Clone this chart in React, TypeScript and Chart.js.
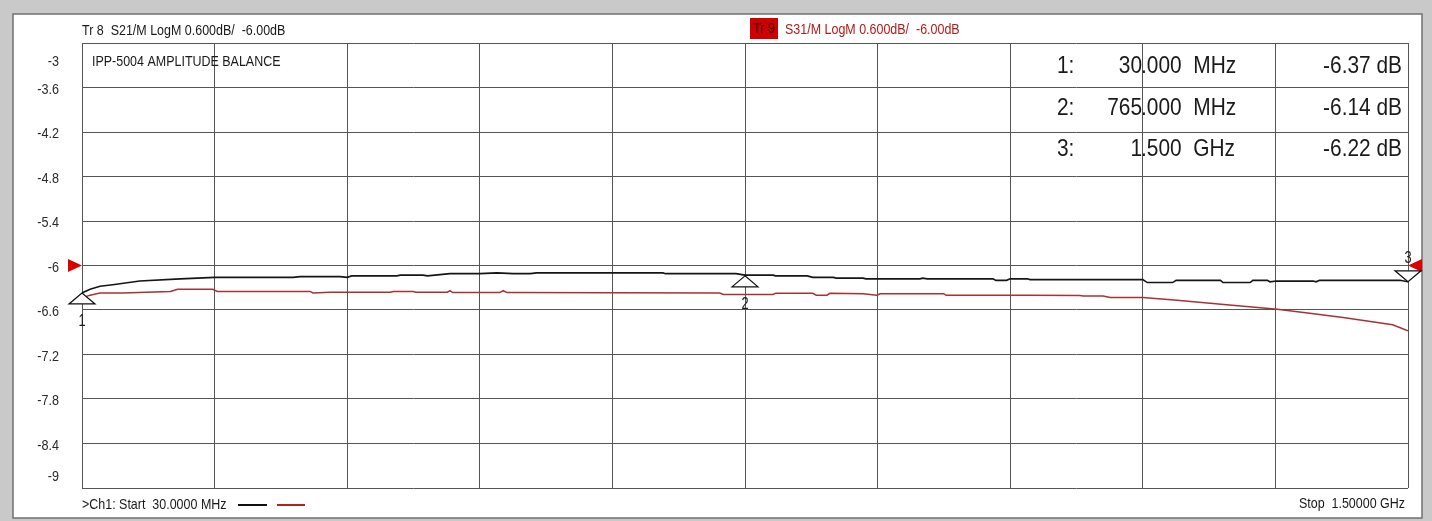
import React, { useEffect, useRef } from "react";
import { Chart, registerables } from "chart.js";

Chart.register(...registerables);

// ---- data (MHz, dB) ----
const s21Freq = [30, 39, 50, 64, 94, 139, 177, 264, 272, 316, 324, 329, 379, 383, 408, 413, 438, 471, 490, 508, 527, 534, 674, 677, 755, 765, 772, 796, 799, 834, 840, 863, 866, 896, 899, 959, 962, 967, 1040, 1043, 1055, 1059, 1078, 1081, 1206, 1211, 1239, 1243, 1292, 1295, 1325, 1328, 1344, 1347, 1354, 1395, 1398, 1402, 1491, 1500];
const s21Val = [-6.37, -6.32, -6.28, -6.26, -6.21, -6.18, -6.16, -6.16, -6.15, -6.15, -6.16, -6.14, -6.14, -6.13, -6.13, -6.14, -6.11, -6.11, -6.1, -6.11, -6.11, -6.1, -6.1, -6.11, -6.11, -6.13, -6.13, -6.13, -6.14, -6.14, -6.16, -6.16, -6.17, -6.17, -6.18, -6.18, -6.17, -6.18, -6.18, -6.2, -6.2, -6.18, -6.18, -6.19, -6.19, -6.23, -6.23, -6.2, -6.2, -6.23, -6.23, -6.2, -6.2, -6.22, -6.21, -6.21, -6.22, -6.2, -6.2, -6.22];

const s31Freq = [30, 39, 50, 75, 128, 136, 175, 180, 283, 286, 305, 372, 375, 397, 400, 435, 438, 441, 493, 497, 501, 737, 741, 796, 799, 840, 844, 856, 859, 896, 911, 915, 985, 988, 1078, 1136, 1140, 1162, 1170, 1206, 1244, 1299, 1355, 1391, 1428, 1466, 1483, 1500];
const s31Val = [-6.44, -6.4, -6.37, -6.37, -6.35, -6.32, -6.32, -6.35, -6.35, -6.37, -6.36, -6.36, -6.35, -6.35, -6.36, -6.36, -6.34, -6.365, -6.365, -6.34, -6.365, -6.37, -6.39, -6.39, -6.375, -6.375, -6.4, -6.4, -6.375, -6.38, -6.4, -6.38, -6.38, -6.4, -6.4, -6.405, -6.41, -6.41, -6.43, -6.43, -6.47, -6.53, -6.59, -6.645, -6.7, -6.77, -6.8, -6.88];

const markerFreq = [30, 765, 1500];
const markerVal = [-6.37, -6.14, -6.22];

const yTicks = [-3, -3.6, -4.2, -4.8, -5.4, -6, -6.6, -7.2, -7.8, -8.4, -9];
const xTicks = [30, 177, 324, 471, 618, 765, 912, 1059, 1206, 1353, 1500];
const refLevel = -6;

const tr8Header = "Tr 8  S21/M LogM 0.600dB/  -6.00dB";
const tr9Tag = "Tr 9";
const tr9Header = "S31/M LogM 0.600dB/  -6.00dB";
const titleText = "IPP-5004 AMPLITUDE BALANCE";
const startText = ">Ch1: Start  30.0000 MHz";
const stopText = "Stop  1.50000 GHz";

const FONT = '"Liberation Sans", Arial, sans-serif';

function txt(ctx: CanvasRenderingContext2D, s: string, x: number, y: number, size: number, color: string, align: CanvasTextAlign, sq = 0.87) {
  ctx.save();
  ctx.font = `${size}px ${FONT}`;
  ctx.fillStyle = color;
  ctx.textBaseline = "middle";
  ctx.textAlign = align;
  ctx.translate(x, y);
  ctx.scale(sq, 1);
  ctx.fillText(s, 0, 0);
  ctx.restore();
}

function fmtFreq(f: number): [string, string, string] {
  const s = f >= 1000 ? (f / 1000).toFixed(3) : f.toFixed(3);
  const [a, b] = s.split(".");
  return [a, "." + b, f >= 1000 ? "GHz" : "MHz"];
}

const framePlugin = {
  id: "frame",
  beforeDraw(chart: any) {
    const ctx = chart.ctx as CanvasRenderingContext2D;
    const w = chart.width;
    const h = chart.height;
    ctx.save();
    ctx.fillStyle = "#c9c9c9";
    ctx.fillRect(0, 0, w, h);
    ctx.fillStyle = "#ffffff";
    ctx.fillRect(13, 14, 1409, 504);
    ctx.strokeStyle = "#707070";
    ctx.lineWidth = 1.5;
    ctx.strokeRect(13, 14, 1409, 504);
    ctx.restore();
  },
};

const decoPlugin = {
  id: "deco",
  afterDraw(chart: any) {
    const ctx = chart.ctx as CanvasRenderingContext2D;
    const xs = chart.scales.x;
    const ys = chart.scales.y;
    const area = chart.chartArea;
    const ink = "#1a1a1a";

    // y tick labels
    yTicks.forEach((v, i) => {
      let y = ys.getPixelForValue(v) + 2;
      if (i === 0) y = ys.getPixelForValue(v) + 19;
      if (i === yTicks.length - 1) y = ys.getPixelForValue(v) - 11;
      txt(ctx, String(v), 59, y, 14.5, "#2a2a2a", "right");
    });

    // headers
    txt(ctx, tr8Header, area.left, 31, 14.5, ink, "left", 0.86);
    ctx.save();
    ctx.fillStyle = "#d00000";
    ctx.fillRect(750, 18, 28, 21);
    ctx.restore();
    txt(ctx, tr9Tag, 764, 29, 14.5, "#3a0000", "center");
    txt(ctx, tr9Header, 785, 30, 14.5, "#b31b1b", "left", 0.86);
    txt(ctx, titleText, 92, 62, 14.5, ink, "left", 0.86);

    // marker table
    const rowY = [66, 108, 149];
    markerFreq.forEach((f, i) => {
      const [ip, dp, unit] = fmtFreq(f);
      const y = rowY[i];
      txt(ctx, `${i + 1}:`, 1057, y, 24, ink, "left", 0.87);
      txt(ctx, ip, 1142, y, 24, ink, "right", 0.87);
      txt(ctx, `${dp}  ${unit}`, 1141, y, 24, ink, "left", 0.87);
      txt(ctx, `${markerVal[i].toFixed(2)} dB`, 1402, y, 24, ink, "right", 0.87);
    });

    // reference arrows
    const yr = ys.getPixelForValue(refLevel);
    ctx.save();
    ctx.fillStyle = "#dd0000";
    ctx.beginPath();
    ctx.moveTo(area.left, yr);
    ctx.lineTo(area.left - 14, yr - 6.5);
    ctx.lineTo(area.left - 14, yr + 6.5);
    ctx.closePath();
    ctx.fill();
    ctx.beginPath();
    ctx.moveTo(area.right, yr);
    ctx.lineTo(area.right + 14, yr - 6.5);
    ctx.lineTo(area.right + 14, yr + 6.5);
    ctx.closePath();
    ctx.fill();
    ctx.restore();

    // markers
    markerFreq.forEach((f, i) => {
      const px = xs.getPixelForValue(f);
      const py = ys.getPixelForValue(markerVal[i]);
      const down = i === markerFreq.length - 1;
      const hw = 13;
      const hh = 11;
      ctx.save();
      ctx.beginPath();
      ctx.moveTo(px, py);
      if (down) {
        ctx.lineTo(px - hw, py - hh);
        ctx.lineTo(px + hw, py - hh);
      } else {
        ctx.lineTo(px - hw, py + hh);
        ctx.lineTo(px + hw, py + hh);
      }
      ctx.closePath();
      ctx.fillStyle = "#ffffff";
      ctx.fill();
      ctx.strokeStyle = "#111111";
      ctx.lineWidth = 1.2;
      ctx.stroke();
      ctx.restore();
      const ly = down ? py - hh - 12 : py + hh + 18;
      txt(ctx, String(i + 1), px, ly, 16, ink, "center", 0.8);
    });

    // bottom texts + legend lines
    txt(ctx, startText, area.left, 505, 14.5, ink, "left", 0.86);
    ctx.save();
    ctx.lineWidth = 2;
    ctx.strokeStyle = "#111111";
    ctx.beginPath();
    ctx.moveTo(238, 505);
    ctx.lineTo(267, 505);
    ctx.stroke();
    ctx.strokeStyle = "#b22222";
    ctx.beginPath();
    ctx.moveTo(277, 505);
    ctx.lineTo(305, 505);
    ctx.stroke();
    ctx.restore();
    txt(ctx, stopText, 1405, 504, 14.5, ink, "right", 0.86);
  },
};

export default function App() {
  const ref = useRef<HTMLCanvasElement | null>(null);
  useEffect(() => {
    document.body.style.margin = "0";
    document.body.style.overflow = "hidden";
    if (!ref.current) return;
    const chart = new Chart(ref.current, {
      type: "line",
      data: {
        datasets: [
          {
            label: "S31",
            data: s31Freq.map((f, i) => ({ x: f, y: s31Val[i] })),
            borderColor: "#a83232",
            borderWidth: 1.5,
            pointRadius: 0,
            tension: 0,
            fill: false,
          },
          {
            label: "S21",
            data: s21Freq.map((f, i) => ({ x: f, y: s21Val[i] })),
            borderColor: "#151515",
            borderWidth: 1.6,
            pointRadius: 0,
            tension: 0,
            fill: false,
          },
        ],
      },
      options: {
        animation: false,
        responsive: true,
        maintainAspectRatio: false,
        layout: { padding: { left: 82, top: 43, right: 24, bottom: 33 } },
        plugins: { legend: { display: false }, tooltip: { enabled: false } },
        scales: {
          x: {
            type: "linear",
            min: 30,
            max: 1500,
            afterBuildTicks: (s: any) => {
              s.ticks = xTicks.map((v) => ({ value: v }));
            },
            afterFit: (s: any) => {
              s.height = 0;
            },
            ticks: { display: false },
            grid: { color: "#555555", lineWidth: 1, drawTicks: false },
            border: { display: false },
          },
          y: {
            type: "linear",
            min: -9,
            max: -3,
            afterBuildTicks: (s: any) => {
              s.ticks = yTicks.map((v) => ({ value: v }));
            },
            afterFit: (s: any) => {
              s.width = 0;
            },
            ticks: { display: false },
            grid: { color: "#555555", lineWidth: 1, drawTicks: false },
            border: { display: false },
          },
        },
      },
      plugins: [framePlugin, decoPlugin],
    } as any);
    return () => chart.destroy();
  }, []);
  return (
    <div style={{ position: "relative", width: 1432, height: 521 }}>
      <canvas ref={ref} />
    </div>
  );
}
